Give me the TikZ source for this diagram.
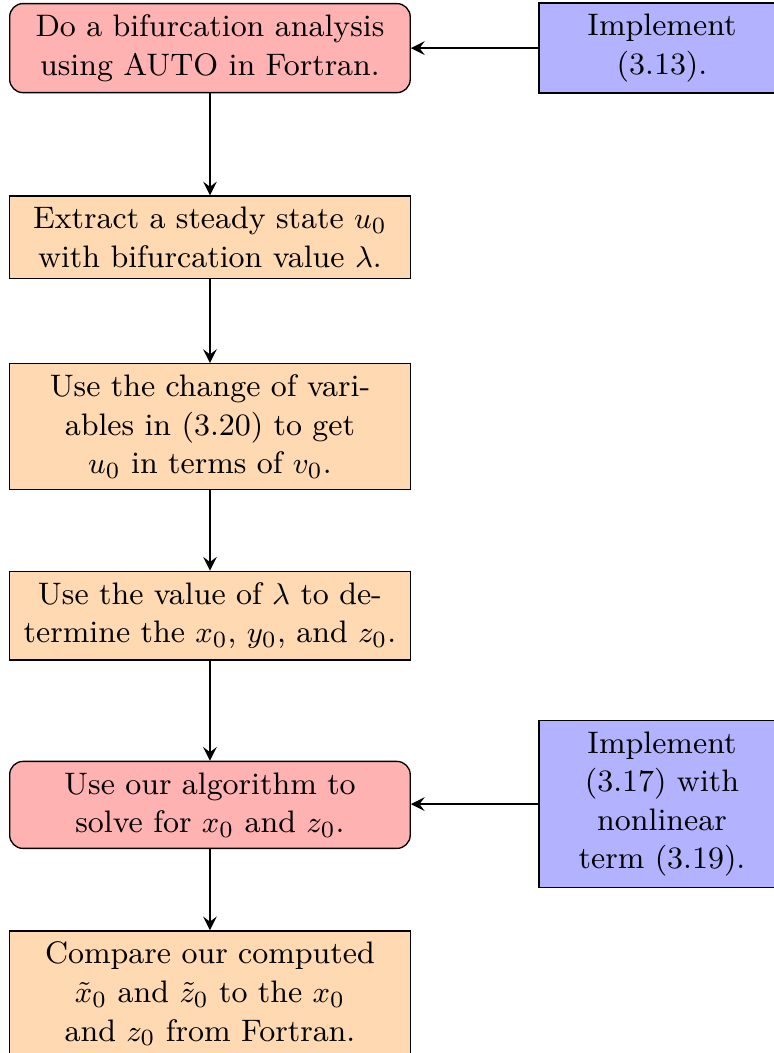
\documentclass[tikz,border=0pt]{standalone}
\usepackage{amsmath}
\usepackage{amssymb}
\usepackage{tikz}
\usetikzlibrary{arrows}

\begin{document}
\begin{tikzpicture}[x=0.75pt,y=0.75pt,yscale=-1,xscale=1,
  every node/.style={font=\fontsize{9.35}{11.6}\selectfont},
  startstop/.style={rectangle, rounded corners, text width=4cm, align=center, draw=black, fill=red!30},
  process/.style={rectangle, text width=4cm, align=center, draw=black, fill=orange!30},
  io/.style={rectangle, text width=2cm, minimum width=2.6cm, align=center, draw=black, fill=blue!30},
  arrow/.style={thick,->,>=stealth}]
%set diagram left start at 0, and has height of 422.3
\useasboundingbox (0,0) rectangle (310.4,422.3);

% Left column
\node (auto) [startstop] at (84.2,19.3) {Do a bifurcation analysis using AUTO in Fortran.};
\node (steady) [process] at (84.2,95.2) {Extract a steady state $u_0$ with bifurcation value $\lambda$.};
\node (change) [process] at (84.2,171.1) {Use the change of vari-\\ables in (3.20) to get\\ $u_0$ in terms of $v_0$.};
\node (lambda) [process] at (84.2,246.9) {Use the value of $\lambda$ to de-\\termine the $x_0$, $y_0$, and $z_0$.};
\node (solve) [startstop] at (84.2,322.8) {Use our algorithm to solve for $x_0$ and $z_0$.};
\node (compare) [process] at (84.2,398.6) {Compare our computed $\tilde{x}_0$ and $\tilde{z}_0$ to the $x_0$ and $z_0$ from Fortran.};

% Right column
\node (impl1) [io] at (265.5,19.3) {Implement (3.13).};
\node (impl2) [io] at (265.5,322.5) {Implement (3.17) with nonlinear term (3.19).};

% Arrows
\draw [arrow] (auto) -- (steady);
\draw [arrow] (steady) -- (change);
\draw [arrow] (change) -- (lambda);
\draw [arrow] (lambda) -- (solve);
\draw [arrow] (solve) -- (compare);
\draw [arrow] (impl1) -- (auto);
\draw [arrow] (impl2.west) -- (impl2.west -| solve.east);
\end{tikzpicture}
\end{document}
